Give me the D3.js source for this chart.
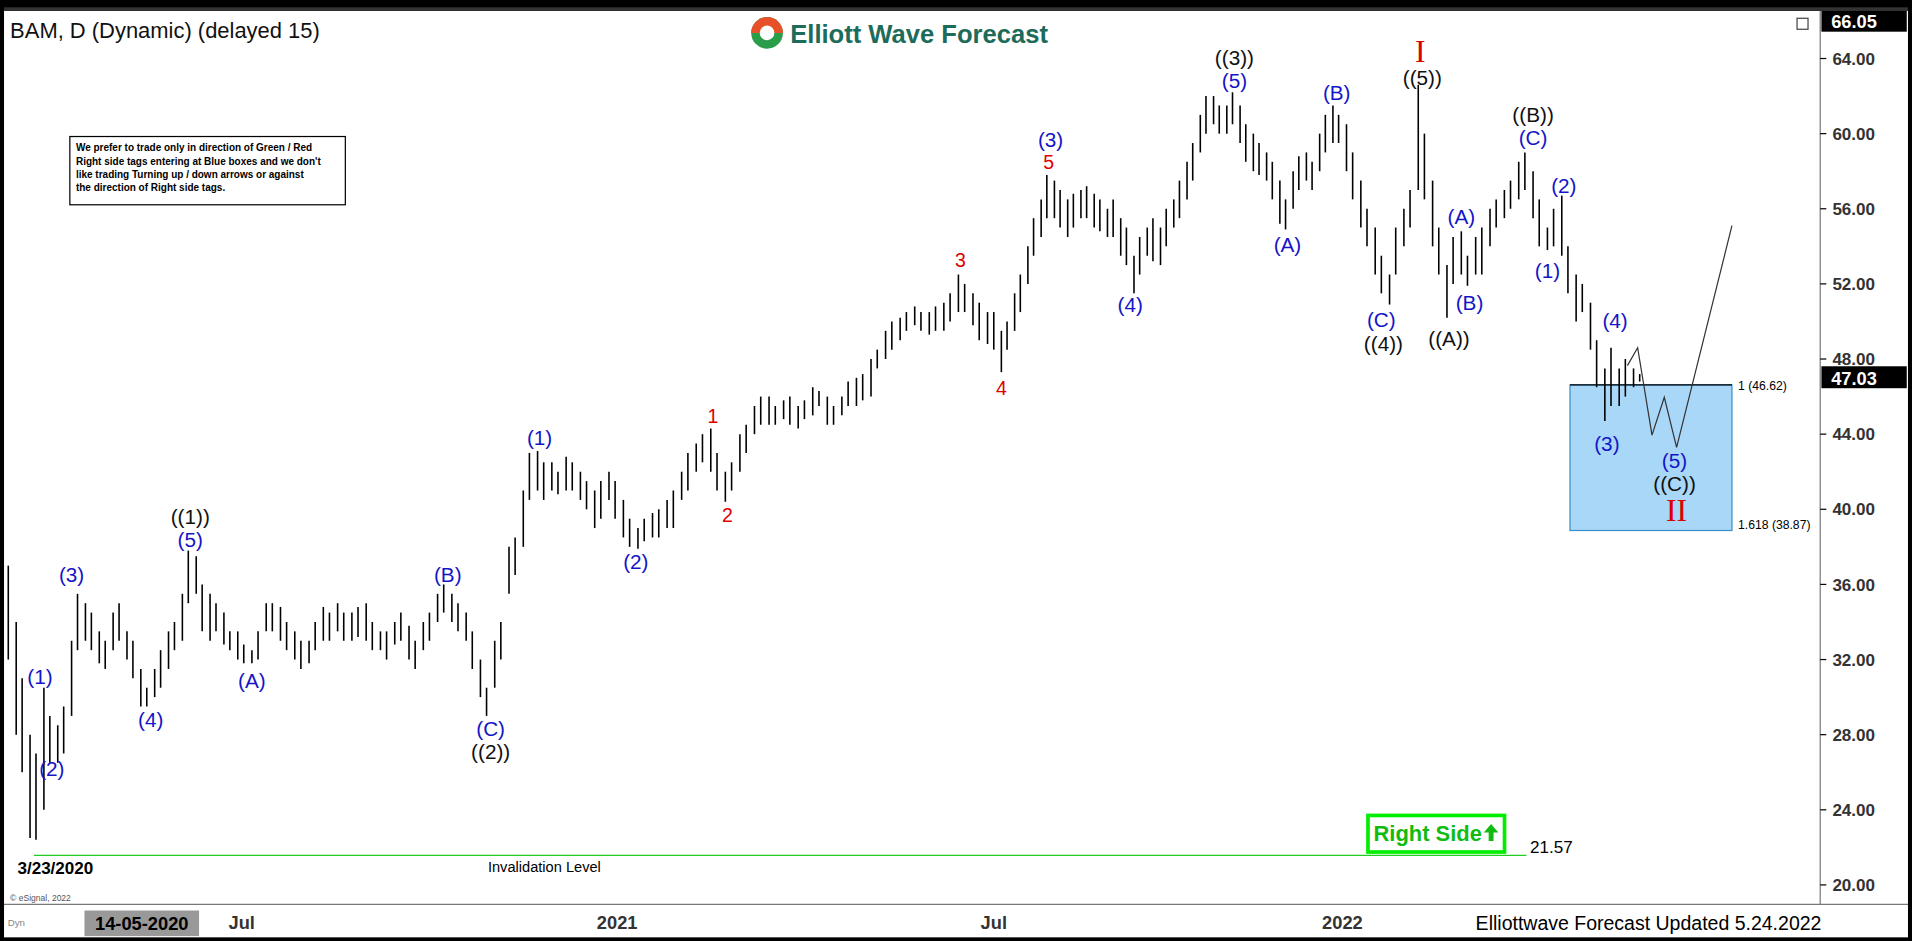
<!DOCTYPE html>
<html><head><meta charset="utf-8">
<script src="https://cdnjs.cloudflare.com/ajax/libs/d3/7.8.5/d3.min.js"></script>
<style>html,body{margin:0;padding:0;background:#000;overflow:hidden}svg{display:block}</style>
</head><body>
<script>
// ---- data: twice-weekly bars (Mon, Thu) starting week of 2020-03-02 ----
const firstWeek = "2020-03-02";
const highs = [38.5,37, 34,31, 28,27, 30.5,29, 28.5,29.5, 33,35.5, 35,34.5, 33.5,33, 34.5,35, 33.5,33, 31.5,30.5, 31.5,32.5, 33.5,34, 35.5,37.8, 37.5,36, 35.5,35, 34.5,33.5, 33.5,32.8, 32.5,33.5, 35,35, 34.8,34, 33.5,33, 33,34, 34.8,34.5, 35,34.5, 34.5,34.8, 35,34, 33.5,33.5, 34,34.5, 33.8,33, 34,34.5, 35.5,36, 35.5,35, 34.5,33.5, 32,30.5, 33,34, 38,38.5, 41,43, 43.1,42.5, 42.5,42, 42.8,42.5, 42,41.5, 41,41.5, 42,41.5,
 40.5,39.5, 39,39.5, 39.8,40, 40.5,41, 42,43, 43.5,44, 44.3,43, 42,42.5, 44,44.5, 45.5,46, 46,45.5, 45.8,46, 45.5,45.8, 46.5,46.3, 46,45.5, 46,46.8, 47,47.2, 48,48.5, 49.5,50, 50.2,50.5, 50.8,50.5, 50.5,50.8, 51,51.5, 52.5,52, 51.5,51, 50.5,50.5, 49.5,50, 51.5,52.5, 54,55.5, 56.5,57.8, 57.5,57, 56.5,56.8, 57,57.2, 56.8,56.5, 56,56.5, 55.5,55, 53.5,54.5, 55,55.5, 55,56, 56.5,57.5, 58.5,59.5, 61,62, 62,61.5, 61.5,62.2, 61.5,60.5, 60,59.5, 59,58.5, 57.5,56.5, 58,58.8, 59,58.5, 60,61, 61.5,61,
 60.5,59, 57.5,56, 55,53.5, 52.5,55, 56,57, 62.6,60, 57.5,55, 53,54.5, 54.8,53.5, 54.5,55, 56,56.5, 57,57.5, 58.5,59, 58,56.5, 55,56, 56.7,54, 52.5,52, 51,49, 47.5,48.6, 47.5,48, 47.5,47.2];
const lows = [35,32, 28,26, 22.5,22.4, 24,26.5, 26.5,27, 29,32.5, 33,32.5, 31.8,31.5, 32.5,33, 32,31, 29.5,29.5, 30,30.5, 31.5,32.5, 33,35, 35.5,33.5, 33,33.5, 32.8,32.5, 32,31.8, 31.8,32, 33.5,33.5, 33,32.5, 32,31.5, 31.8,32.5, 33,33, 33.5,33, 33,33.2, 33,32.5, 32.5,32, 32.8,33, 32,31.5, 32.5,33, 34,34.5, 34,33.5, 33,31.5, 30,29, 30.5,32, 35.5,36.5, 38,40.5, 41,40.5, 41,40.8, 41,41, 40.5,40, 39,39.5, 40.5,39.5,
 38.5,38, 37.9,38.3, 38.5,38.5, 39,39, 40.5,41, 42,42.5, 42,41, 40.4,41, 42,43, 44,44.5, 44.5,44.5, 44.8,44.5, 44.3,44.8, 45,45.5, 44.5,44.5, 45,45.5, 45.5,45.8, 46,47.5, 48,48.5, 49,49.5, 49.8,49.5, 49.3,49.5, 49.5,50, 50.5,50.5, 49.8,49, 48.8,48.5, 47.3,48.5, 49.5,50.5, 52,53.5, 54.5,55.5, 55.5,55, 54.5,55, 55.5,55.5, 55,54.8, 54.5,54.5, 53.5,53, 51.5,52.5, 53.5,53.2, 53,54, 55,55.5, 56.5,57.5, 59,60, 60.5,60, 60,60.5, 59.5,58.5, 58,57.8, 57.5,56.5, 55.2,54.9, 56,57, 57.5,57, 58,59, 59.5,59.5,
 58,56.5, 55,54, 52.5,51.5, 50.9,52.5, 54,55, 57,56.5, 54,52.5, 50.2,52, 52.5,51.9, 52.5,52.5, 54,55, 55.5,56, 56.5,57, 55.5,54, 53.8,54, 53.5,51.5, 50,50.5, 48.5,46.5, 44.7,45.5, 45.5,46, 46.5,46.8];
const yTicks = [20,24,28,32,36,40,44,48,52,56,60,64];
const xTickDates = ["2020-07-01","2021-01-01","2021-07-01","2022-01-01"];
const xTickLabels = ["Jul","2021","Jul","2022"];
// wave labels: [text, date, price, color]
const waveLabels = [
 ["(1)","2020-03-21",31.1,"b"],["(2)","2020-03-27",26.2,"b"],["(3)","2020-04-06",36.5,"b"],["(4)","2020-05-16",28.8,"b"],
 ["(5)","2020-06-05",38.4,"b"],["((1))","2020-06-05",39.6,"k"],["(A)","2020-07-06",30.9,"b"],["(B)","2020-10-10",36.5,"b"],
 ["(C)","2020-10-31",28.3,"b"],["((2))","2020-10-31",27.1,"k"],["(1)","2020-11-24",43.8,"b"],["(2)","2021-01-10",37.2,"b"],
 ["1","2021-02-16",45,"r"],["2","2021-02-23",39.7,"r"],["3","2021-06-15",53.3,"r"],["4","2021-07-05",46.5,"r"],
 ["5","2021-07-30",58.5,"r"],["(3)","2021-07-31",59.7,"b"],["(4)","2021-09-11",50.9,"b"],["(5)","2021-11-05",62.8,"b"],
 ["((3))","2021-11-05",64.05,"k"],["(A)","2021-12-03",54.1,"b"],["(B)","2021-12-29",62.2,"b"],["(C)","2022-01-20",50.1,"b"],
 ["((4))","2022-01-21",48.8,"k"],["((5))","2022-02-09",63.0,"k"],["(A)","2022-02-28",55.6,"b"],["(B)","2022-03-04",51,"b"],
 ["((A))","2022-02-22",49.1,"k"],["((B))","2022-04-04",61,"k"],["(C)","2022-04-04",59.8,"b"],["(2)","2022-04-19",57.25,"b"],
 ["(1)","2022-04-11",52.7,"b"],["(4)","2022-05-14",50.05,"b"],["(3)","2022-05-10",43.5,"b"],["(5)","2022-06-12",42.6,"b"],
 ["((C))","2022-06-12",41.35,"k"]];
const redRoman = [["I","2022-02-08",64.45],["II","2022-06-13",40.05]];
const projDates = ["2022-05-20","2022-05-25","2022-06-01","2022-06-07","2022-06-13","2022-07-10"];
const projPrices = [47.65,48.6,43.95,45.96,43.3,55.1];
const boxDates = ["2022-04-22","2022-07-10"];
const boxPrices = [46.62,38.87];
const invalidation = 21.57, lastPrice = 47.03, topPrice = 66.05;

// ---- drawing (design space 1568x772, scaled to 1912x941) ----
const W=1568,H=772;
const svg=d3.select("body").append("svg").attr("width",1912).attr("height",941).attr("viewBox",`0 0 ${W} ${H}`);
const P=d3.timeParse("%Y-%m-%d");
const x=d3.scaleTime().domain(["2020-03-01","2020-07-01","2021-01-01","2021-07-01","2022-01-01","2022-06-01"].map(P))
  .range([0,198,506,815,1101,1355]);
const y=d3.scaleLinear().domain([20,64]).range([726,48]);
const blue="#1515c8", red="#dd0000";
svg.append("rect").attr("width",W).attr("height",H).attr("fill","#000");
svg.append("rect").attr("x",3).attr("y",9).attr("width",1562).attr("height",760).attr("fill","#fff");
svg.append("rect").attr("x",3).attr("y",6).attr("width",1562).attr("height",3).attr("fill","#333");
svg.append("line").attr("x1",1493).attr("x2",1493).attr("y1",9).attr("y2",742).attr("stroke","#777");
svg.append("line").attr("x1",3).attr("x2",1565).attr("y1",742).attr("y2",742).attr("stroke","#777");

// blue box
svg.append("rect").attr("x",x(P(boxDates[0]))).attr("y",y(boxPrices[0]))
 .attr("width",x(P(boxDates[1]))-x(P(boxDates[0]))).attr("height",y(boxPrices[1])-y(boxPrices[0]))
 .attr("fill","#a9d7f7").attr("stroke","#3b8fcc");
svg.append("line").attr("x1",x(P(boxDates[0]))).attr("x2",x(P(boxDates[1]))).attr("y1",y(boxPrices[0])).attr("y2",y(boxPrices[0])).attr("stroke","#000");
svg.append("text").attr("x",x(P(boxDates[1]))+5).attr("y",y(boxPrices[0])+4).attr("font-size",10).attr("font-family","Arial").text(`1 (${boxPrices[0]})`);
svg.append("text").attr("x",x(P(boxDates[1]))+5).attr("y",y(boxPrices[1])-1).attr("font-size",10).attr("font-family","Arial").text(`1.618 (${boxPrices[1]})`);

// bars
const dates=highs.map((h,i)=>d3.timeDay.offset(P(firstWeek),Math.floor(i/2)*7+(i%2)*3));
svg.append("g").selectAll("line").data(highs).join("line")
 .attr("x1",(d,i)=>x(dates[i])).attr("x2",(d,i)=>x(dates[i]))
 .attr("y1",d=>y(d)).attr("y2",(d,i)=>y(lows[i])).attr("stroke","#000").attr("stroke-width",1.3);

// projection
svg.append("path").datum(projDates.map((d,i)=>[x(P(d)),y(projPrices[i])]))
 .attr("d",d3.line()).attr("fill","none").attr("stroke","#333").attr("stroke-width",1);

// invalidation
svg.append("line").attr("x1",x(P("2020-03-18"))).attr("x2",1252).attr("y1",y(invalidation)).attr("y2",y(invalidation)).attr("stroke","#22cc22");
svg.append("text").attr("x",1255).attr("y",y(invalidation)-2).attr("font-size",14).attr("font-family","Arial").text(invalidation);
svg.append("text").attr("x",14).attr("y",717).attr("font-size",14).attr("font-weight","bold").attr("font-family","Arial").text("3/23/2020");
svg.append("text").attr("x",400).attr("y",715).attr("font-size",12).attr("font-family","Arial").text("Invalidation Level");
svg.append("text").attr("x",8).attr("y",739).attr("font-size",7).attr("fill","#555").attr("font-family","Arial").text("© eSignal, 2022");
// right side box
svg.append("rect").attr("x",1122).attr("y",669).attr("width",112).attr("height",30).attr("fill","#fff").attr("stroke","#00ee00").attr("stroke-width",3);
svg.append("text").attr("x",1171).attr("y",690).attr("text-anchor","middle").attr("font-size",18).attr("font-weight","bold").attr("fill","#11bb11").attr("font-family","Arial").text("Right Side");
svg.append("path").attr("d","M1223,676 l-6,7 h4 v7 h4 v-7 h4 z").attr("fill","#11bb11");

// wave labels
const col={b:blue,k:"#111",r:red};
svg.append("g").selectAll("text").data(waveLabels).join("text")
 .attr("x",d=>x(P(d[1]))).attr("y",d=>y(d[2])+6).attr("text-anchor","middle")
 .attr("font-size",d=>d[3]==="r"?16:17).attr("font-family","Arial").attr("fill",d=>col[d[3]]).text(d=>d[0]);
svg.append("g").selectAll("text").data(redRoman).join("text")
 .attr("x",d=>x(P(d[1]))).attr("y",d=>y(d[2])+10).attr("text-anchor","middle")
 .attr("font-size",26).attr("font-family","Times New Roman, Liberation Serif").attr("fill",red).text(d=>d[0]);

// y axis
const ya=svg.append("g");
yTicks.forEach(t=>{ya.append("line").attr("x1",1493).attr("x2",1498).attr("y1",y(t)).attr("y2",y(t)).attr("stroke","#000");
 ya.append("text").attr("x",1503).attr("y",y(t)+5).attr("font-size",14).attr("font-weight","bold").attr("fill","#333").attr("font-family","Arial").text(t.toFixed(2));});
svg.append("rect").attr("x",1494).attr("y",y(lastPrice)-9).attr("width",70).attr("height",18).attr("fill","#000");
svg.append("text").attr("x",1502).attr("y",y(lastPrice)+6).attr("font-size",15).attr("font-weight","bold").attr("fill","#fff").attr("font-family","Arial").text(lastPrice.toFixed(2));
svg.append("rect").attr("x",1494).attr("y",9).attr("width",70).attr("height",17).attr("fill","#000");
svg.append("text").attr("x",1502).attr("y",23).attr("font-size",15).attr("font-weight","bold").attr("fill","#fff").attr("font-family","Arial").text(topPrice.toFixed(2));
svg.append("rect").attr("x",1474).attr("y",15).attr("width",9).attr("height",9).attr("fill","#fff").attr("stroke","#444");

// x axis
xTickDates.forEach((d,i)=>{svg.append("text").attr("x",x(P(d))).attr("y",762).attr("text-anchor","middle")
 .attr("font-size",15).attr("font-weight","bold").attr("fill","#333").attr("font-family","Arial").text(xTickLabels[i]);});
svg.append("rect").attr("x",69).attr("y",747).attr("width",94).attr("height",21).attr("fill","#999");
svg.append("text").attr("x",116).attr("y",763).attr("text-anchor","middle").attr("font-size",15).attr("font-weight","bold").attr("fill","#000").attr("font-family","Arial").text("14-05-2020");
svg.append("text").attr("x",6).attr("y",760).attr("font-size",8).attr("fill","#888").attr("font-family","Arial").text("Dyn");
svg.append("text").attr("x",1494).attr("y",763).attr("text-anchor","end").attr("font-size",16).attr("fill","#000").attr("font-family","Arial").text("Elliottwave Forecast Updated 5.24.2022");

// title & logo
svg.append("text").attr("x",8).attr("y",31).attr("font-size",18).attr("font-family","Arial").attr("fill","#111").text("BAM, D (Dynamic) (delayed 15)");
svg.append("circle").attr("cx",629).attr("cy",27).attr("r",13).attr("fill","#2a9d4a");
svg.append("path").attr("d","M616,27 a13,13 0 0 1 26,0 z").attr("fill","#e8502a");
svg.append("circle").attr("cx",629).attr("cy",27).attr("r",6).attr("fill","#fff");
svg.append("text").attr("x",648).attr("y",35).attr("font-size",21).attr("font-weight","bold").attr("fill","#1d6b5a").attr("font-family","Arial").text("Elliott Wave Forecast");

// note box
svg.append("rect").attr("x",57).attr("y",112).attr("width",226).attr("height",56).attr("fill","#fff").attr("stroke","#000");
["We prefer to trade only in direction of Green / Red","Right side tags entering at Blue boxes and we don't","like trading Turning up / down arrows or against","the direction of Right side tags."]
 .forEach((t,i)=>svg.append("text").attr("x",62).attr("y",124+i*11).attr("font-size",8.2).attr("font-weight","bold").attr("font-family","Arial").text(t));
</script>
</body></html>
